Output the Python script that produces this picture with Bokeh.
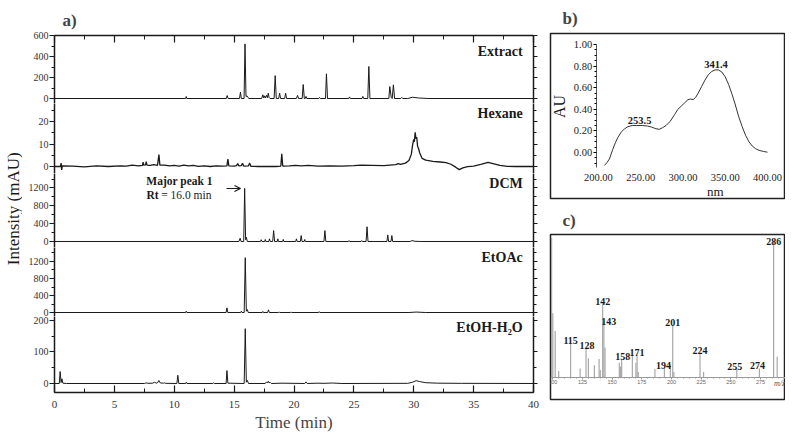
from math import pi
from bokeh.plotting import figure
from bokeh.layouts import row, column
from bokeh.models import (Range1d, LinearAxis, FixedTicker, SingleIntervalTicker,
                          NumeralTickFormatter, CustomJSTickFormatter, Arrow, OpenHead)
from bokeh.core.properties import value
from bokeh.embed import file_html
from bokeh.resources import INLINE

SERIF = "Liberation Serif"
INK = "#1a1a1a"

# ---------------- a) HPLC chromatograms (time in min, intensity in mAU) ----------------
TIME_RANGE = (0, 40)

EXTRACT = [(0.0, 0), (10.95, 0), (11.0, 19), (11.05, 0), (14.35, 0), (14.42, 28), (14.5, 0),
           (15.45, 0), (15.53, 60), (15.6, 0), (15.83, 0), (15.91, 520), (15.99, 20), (16.08, 25),
           (16.15, 10), (16.24, 0), (17.3, 0), (17.4, 35), (17.48, 5), (17.55, 25), (17.62, 5),
           (17.7, 30), (17.78, 8), (17.85, 50), (17.92, 10), (18.0, 0), (18.34, 0), (18.43, 218),
           (18.52, 0), (18.72, 0), (18.8, 50), (18.88, 0), (19.22, 0), (19.3, 50), (19.38, 0),
           (20.2, 0), (20.3, 30), (20.38, 0), (20.68, 0), (20.77, 133), (20.86, 0), (20.94, 0),
           (21.0, 20), (21.07, 0), (22.07, 0), (22.13, 10), (22.2, 0), (22.63, 0), (22.71, 235),
           (22.8, 0), (24.57, 0), (24.63, 15), (24.7, 0), (25.68, 0), (25.75, 20), (25.82, 0),
           (26.16, 0), (26.25, 305), (26.34, 0), (27.92, 0), (28.0, 114), (28.12, 10), (28.2, 0),
           (28.3, 130), (28.4, 0), (28.92, 0), (29.0, 10), (29.08, 0), (29.5, 0), (29.9, 12),
           (30.4, 5), (31.2, 0), (40.0, 0)]

HEXANE = [(0.0, 0), (0.5, 0), (0.55, 1.5), (0.6, -1.5), (0.65, 0.3), (1.5, 0.2), (2.5, -0.2),
          (3.5, 0.3), (4.5, 0.0), (5.5, 0.3), (6.0, 0.2), (6.5, 0.6), (7.0, 0.3), (7.35, 0.5),
          (7.4, 2.0), (7.45, 0.6), (7.6, 0.7), (7.66, 2.2), (7.72, 0.6), (8.0, 0.5), (8.3, 0.8),
          (8.6, 0.5), (8.72, 5.3), (8.8, 0.6), (9.2, 0.6), (9.6, 0.3), (10.0, 0.5), (10.4, 0.2),
          (10.8, 0.6), (11.2, 0.3), (11.6, 0.5), (12.0, 0.1), (12.5, 0.3), (13.0, 0.0),
          (13.5, 0.3), (14.0, 0.2), (14.4, 0.3), (14.48, 3.3), (14.56, 0.3), (15.0, 0.2),
          (15.2, 0.4), (15.3, 1.3), (15.4, 0.3), (15.6, 0.4), (15.7, 1.4), (15.8, 0.2),
          (16.2, 0.3), (16.3, 1.5), (16.4, 0.1), (17.0, 0.0), (17.8, 0.1), (18.5, 0.0),
          (18.9, 0.2), (18.98, 5.6), (19.06, 0.2), (19.6, 0.3), (20.1, 0.5), (20.6, 0.3),
          (21.2, 0.5), (22.0, 0.2), (23.0, 0.3), (24.0, 0.2), (25.0, 0.4), (25.6, 0.6),
          (26.5, 0.5), (27.5, 0.4), (28.5, 0.8), (28.7, 1.3), (28.9, 0.9), (29.3, 1.5),
          (29.6, 2.7), (29.8, 5.5), (29.9, 9.5), (30.0, 12.0), (30.05, 11.0), (30.12, 15.2),
          (30.18, 12.5), (30.25, 13.0), (30.32, 9.0), (30.4, 8.0), (30.5, 6.0), (30.7, 3.6),
          (31.0, 2.8), (31.6, 2.3), (32.2, 2.0), (32.7, 1.7), (33.1, 1.0), (33.5, -0.3),
          (33.8, -1.4), (34.1, -0.6), (34.5, -0.1), (35.0, 0.2), (35.6, 0.9), (36.2, 1.8),
          (36.7, 1.2), (37.2, 0.5), (37.8, 0.1), (38.5, 0.0), (40.0, 0.0)]

DCM = [(0.0, 0), (15.4, 0), (15.5, 73), (15.58, 0), (15.8, 0), (15.88, 1190), (15.96, 40),
       (16.02, 96), (16.1, 0), (17.2, 0), (17.26, 40), (17.32, 0), (17.55, 0), (17.6, 45),
       (17.65, 0), (17.9, 0), (17.95, 60), (18.02, 0), (18.22, 0), (18.3, 244), (18.38, 0),
       (18.6, 0), (18.65, 60), (18.7, 0), (19.05, 0), (19.1, 45), (19.15, 0), (20.15, 0),
       (20.2, 60), (20.27, 0), (20.53, 0), (20.6, 133), (20.67, 0), (20.85, 0), (20.9, 45),
       (20.95, 0), (22.5, 0), (22.58, 244), (22.66, 0), (24.55, 0), (24.6, 20), (24.65, 0),
       (25.6, 0), (25.65, 20), (25.7, 0), (26.02, 0), (26.1, 330), (26.18, 0), (27.76, 0),
       (27.83, 148), (27.9, 0), (28.1, 0), (28.17, 133), (28.24, 0), (29.7, 0), (29.85, 20),
       (30.1, 5), (30.6, 0), (40.0, 0)]

ETOAC = [(0.0, 0), (10.95, 0), (11.0, 31), (11.05, 0), (14.33, 0), (14.4, 110), (14.47, 0),
         (15.55, 0), (15.6, 30), (15.66, 0), (15.84, 0), (15.93, 1290), (16.02, 30), (16.1, 70),
         (16.18, 0), (17.35, 0), (17.4, 25), (17.45, 0), (17.8, 0), (17.87, 63), (17.94, 0),
         (18.7, 0), (18.75, 15), (18.8, 0), (19.7, 0), (19.75, 15), (19.8, 0), (22.05, 0),
         (22.1, 20), (22.15, 0), (29.6, 0), (30.2, 10), (31.0, 0), (40.0, 0)]

ETOH = [(0.0, 0), (0.4, 0), (0.47, 38), (0.55, 3), (0.62, 15), (0.7, 1), (1.0, 0), (7.5, 0),
        (7.66, 2), (7.8, 0.5), (8.2, 1), (8.35, 4), (8.5, 1), (8.62, 3), (8.71, 9.5), (8.82, 2),
        (9.1, 1), (9.18, 2), (9.3, 0.5), (10.22, 0), (10.3, 26), (10.38, 0), (10.95, 0),
        (11.0, 4), (11.06, 0), (13.22, 0), (13.28, 2), (13.34, 0), (14.33, 0), (14.4, 41),
        (14.48, 1), (15.84, 0), (15.93, 174), (16.02, 4), (16.1, 10), (16.2, 0), (17.6, 0),
        (17.7, 5), (17.78, 2), (17.85, 7), (17.92, 2), (18.0, 4), (18.1, 0), (19.0, 1),
        (20.0, 0.5), (20.9, 0), (21.0, 5), (21.1, 0), (22.0, 1), (22.5, 0.5), (23.2, 1.5),
        (24.0, 0), (29.5, 0.5), (29.9, 4), (30.2, 9), (30.5, 6), (31.0, 2.5), (32.0, 1),
        (34.0, 0.5), (40.0, 0)]

SAMPLE_NAMES = ["Extract", "Hexane", "DCM", "EtOAc", "EtOH-H\u2082O"]

EXT_TICKS, EXT_MINOR = [0, 200, 400, 600], [100, 300, 500]
HEX_TICKS, HEX_MINOR = [0, 10, 20], [5, 15, 25]
DCM_TICKS, DCM_MINOR = [0, 400, 800, 1200], [200, 600, 1000, 1400]
EA_TICKS, EA_MINOR = [0, 400, 800, 1200], [200, 600, 1000, 1400]
EW_TICKS, EW_MINOR = [0, 100, 200], [50, 150]

# ---------------- b) UV spectrum ----------------
UV_NM = [207, 210, 213, 217, 220, 223, 227, 231, 235, 240, 245, 252, 258, 263, 268, 272, 276,
         280, 285, 290, 294, 298, 302, 306, 309, 312, 315, 318, 322, 326, 330, 334, 338, 342,
         346, 350, 354, 358, 362, 366, 370, 374, 378, 382, 386, 390, 395, 400]
UV_AU = [-0.12, -0.095, -0.06, 0.03, 0.09, 0.14, 0.19, 0.22, 0.24, 0.25, 0.25, 0.25, 0.245,
         0.235, 0.22, 0.215, 0.23, 0.25, 0.29, 0.35, 0.40, 0.43, 0.46, 0.49, 0.495, 0.49, 0.51,
         0.55, 0.61, 0.67, 0.72, 0.75, 0.765, 0.765, 0.745, 0.70, 0.63, 0.54, 0.44, 0.33, 0.24,
         0.16, 0.10, 0.06, 0.035, 0.02, 0.01, 0.003]
UV_PEAK_NM = [253.5, 341.4]
UV_PEAK_AU = [0.25, 0.765]
UV_X_TICKS = [200, 250, 300, 350, 400]
UV_Y_TICKS = [0.0, 0.2, 0.4, 0.6, 0.8, 1.0]

# ---------------- c) mass spectrum ----------------
MS_MZ = [99, 100, 102, 105, 115, 123, 128, 130, 135, 139, 140, 142, 143, 144, 156, 157, 158,
         167, 170, 171, 172, 186, 194, 199, 201, 202, 224, 227, 255, 274, 286, 289]
MS_INT = [102, 47, 34, 4.7, 25.4, 6.6, 21.8, 14, 9, 13.5, 5.4, 54, 41, 21.8, 10.8, 8, 13.2,
          16.9, 10.8, 16.4, 4, 6.2, 6.6, 9.5, 38.4, 4, 17.6, 4, 6.2, 6.6, 100, 15.2]
MS_LABEL_MZ = [115, 128, 142, 143, 158, 171, 194, 201, 224, 255, 274, 286]
MS_LABEL_INT = [25.4, 21.8, 54, 41, 13.2, 16.4, 6.6, 38.4, 17.6, 6.2, 6.6, 100]


def unzip(pairs):
    return [a for a, _ in pairs], [b for _, b in pairs]


BLANK = CustomJSTickFormatter(code="return ''")
XR = Range1d(*TIME_RANGE)
LEFT_B = 32
TOP_A = 35
BOTTOM_A = 42


def style_axis(ax):
    ax.axis_line_width = 1.5
    ax.axis_line_color = INK
    ax.major_tick_line_color = INK
    ax.minor_tick_line_color = INK
    ax.major_tick_line_width = 1.2


def chrom(pairs, name, name_y, frame_h, yr, ticks, minor, top=0, bottom=0, loc=None, lw=1.0):
    p = figure(frame_width=479, frame_height=frame_h, x_range=XR, y_range=Range1d(*yr),
               x_axis_location=loc, y_axis_location="left", output_backend="svg",
               toolbar_location=None, min_border_left=LEFT_B, min_border_right=11,
               min_border_top=top, min_border_bottom=bottom)
    p.outline_line_color = None
    p.grid.visible = False
    p.background_fill_color = "white"
    p.border_fill_color = "white"
    t, v = unzip(pairs)
    p.line(t, v, line_color=INK, line_width=lw)
    ax = p.yaxis[0]
    ax.ticker = FixedTicker(ticks=ticks, minor_ticks=minor)
    ax.major_tick_out, ax.major_tick_in = 5, 0
    ax.minor_tick_out, ax.minor_tick_in = 3, 0
    ax.major_label_standoff = 1
    ax.major_label_text_font = SERIF
    ax.major_label_text_font_size = "10px"
    ax.major_label_text_color = "#333333"
    style_axis(ax)
    ra = LinearAxis(ticker=FixedTicker(ticks=ticks, minor_ticks=minor), formatter=BLANK,
                    major_label_standoff=0, major_tick_out=4, major_tick_in=0,
                    minor_tick_out=3, minor_tick_in=0)
    style_axis(ra)
    p.add_layout(ra, "right")
    p.text(x=[39.1], y=[name_y], text=[name], text_font=value(SERIF), text_font_size="14px",
           text_font_style="bold", text_align="right", text_baseline="middle", text_color=INK)
    return p


pa1 = chrom(EXTRACT, SAMPLE_NAMES[0], 450, 68, (-47.6, 600), EXT_TICKS, EXT_MINOR,
            top=TOP_A, loc="above")
pa2 = chrom(HEXANE, SAMPLE_NAMES[1], 23.6, 70, (-3.11, 28.0), HEX_TICKS, HEX_MINOR, lw=1.3)
pa3 = chrom(DCM, SAMPLE_NAMES[2], 1301, 74, (-134.6, 1525), DCM_TICKS, DCM_MINOR)
pa4 = chrom(ETOAC, SAMPLE_NAMES[3], 1294, 69, (-94.1, 1529.4), EA_TICKS, EA_MINOR)
pa5 = chrom(ETOH, SAMPLE_NAMES[4], 178, 76, (-28.6, 212.7), EW_TICKS, EW_MINOR,
            bottom=BOTTOM_A, loc="below")

# top axis of panel a (ticks only)
xt = pa1.xaxis[0]
xt.ticker = SingleIntervalTicker(interval=5, num_minor_ticks=2)
xt.formatter = BLANK
xt.major_tick_in, xt.major_tick_out = 7, 0
xt.minor_tick_in, xt.minor_tick_out = 4, 0
xt.major_label_standoff = 0
style_axis(xt)
pa1.title.text = "a)"
pa1.title.text_font = SERIF
pa1.title.text_font_size = "17px"
pa1.title.text_font_style = "bold"
pa1.title.offset = 8
pa1.title.standoff = 12

# bottom axis of panel a
xb = pa5.xaxis[0]
xb.ticker = SingleIntervalTicker(interval=5, num_minor_ticks=2)
xb.major_tick_in, xb.major_tick_out = 7, 0
xb.minor_tick_in, xb.minor_tick_out = 4, 0
xb.major_label_standoff = 8
xb.major_label_text_font = SERIF
xb.major_label_text_font_size = "11px"
xb.major_label_text_color = "#333333"
xb.axis_label = "Time (min)"
xb.axis_label_text_font = SERIF
xb.axis_label_text_font_size = "17px"
xb.axis_label_text_font_style = "normal"
xb.axis_label_standoff = 2
style_axis(xb)

# Major peak annotation in DCM panel
pa3.text(x=[10.44], y=[1346], text=["Major peak 1"], text_font=value(SERIF),
         text_font_size="11.5px", text_font_style="bold", text_align="center",
         text_baseline="middle", text_color=INK)
pa3.text(x=[7.68], y=[1054], text=["Rt"], text_font=value(SERIF), text_font_size="11.5px",
         text_font_style="bold", text_align="left", text_baseline="middle", text_color=INK)
pa3.text(x=[8.91], y=[1054], text=["= 16.0 min"], text_font=value(SERIF),
         text_font_size="11.5px", text_align="left", text_baseline="middle", text_color=INK)
pa3.add_layout(Arrow(x_start=14.36, y_start=1189, x_end=15.53, y_end=1189,
                     line_width=1.2, line_color=INK,
                     end=OpenHead(size=6, line_width=1.2, line_color=INK)))

# shared y-axis title for panel a (its own narrow strip so it is not cut)
COL_A_H = TOP_A + 68 + 70 + 74 + 69 + 76 + BOTTOM_A
ylab = figure(width=22, height=COL_A_H, x_range=Range1d(0, 1), y_range=Range1d(0, 1),
              output_backend="svg", toolbar_location=None, x_axis_location=None,
              y_axis_location=None, min_border=0)
ylab.outline_line_color = None
ylab.grid.visible = False
ylab.text(x=[0.6], y=[0.52], text=["Intensity (mAU)"], angle=pi / 2, text_font=value(SERIF),
          text_font_size="17px", text_align="center", text_baseline="middle", text_color=INK)

# ---------------- panel b ----------------
pb = figure(frame_width=235, frame_height=165, x_range=Range1d(143.3, 421.3),
            y_range=Range1d(-0.426, 1.102), output_backend="svg", toolbar_location=None,
            min_border_left=6, min_border_right=0, min_border_top=33, min_border_bottom=3)
pb.grid.visible = False
pb.outline_line_color = "#222222"
pb.outline_line_width = 1.5
pb.line(UV_NM, UV_AU, line_color="#333333", line_width=1)
pb.text(x=UV_PEAK_NM, y=UV_PEAK_AU, text=[f"{v:.1f}" for v in UV_PEAK_NM],
        x_offset=[-4, -2], y_offset=[-2, -2],
        text_font=value(SERIF), text_font_size="10.5px", text_font_style="bold",
        text_align="center", text_baseline="bottom", text_color=INK)
yb = pb.yaxis[0]
yb.fixed_location = 197.3
yb.bounds = (-0.14, 1.0)
yb.ticker = FixedTicker(ticks=UV_Y_TICKS,
                        minor_ticks=[-0.1, -0.05, 0.05, 0.1, 0.15, 0.25, 0.3, 0.35, 0.45, 0.5,
                                     0.55, 0.65, 0.7, 0.75, 0.85, 0.9, 0.95])
yb.formatter = NumeralTickFormatter(format="0.00")
yb.major_tick_out, yb.major_tick_in = 3, 0
yb.minor_tick_out, yb.minor_tick_in = 2, 0
yb.major_label_standoff = 1
yb.major_label_text_font = SERIF
yb.major_label_text_font_size = "10.5px"
yb.major_label_text_color = INK
yb.axis_line_color = "#555555"
xbb = pb.xaxis[0]
xbb.fixed_location = -0.140
xbb.ticker = FixedTicker(ticks=UV_X_TICKS)
xbb.formatter = NumeralTickFormatter(format="0.00")
xbb.axis_line_color = None
xbb.major_tick_line_color = None
xbb.minor_tick_line_color = None
xbb.major_label_standoff = 0
xbb.major_label_text_font = SERIF
xbb.major_label_text_font_size = "10.5px"
xbb.major_label_text_color = INK
pb.text(x=[153.9], y=[0.426], text=["AU"], angle=pi / 2, text_font=value(SERIF),
        text_font_size="16px", text_align="center", text_baseline="middle", text_color=INK)
pb.text(x=[338.2], y=[-0.36], text=["nm"], text_font=value(SERIF), text_font_size="13px",
        text_align="center", text_baseline="middle", text_color=INK)
pb.title.text = "b)"
pb.title.text_font = SERIF
pb.title.text_font_size = "17px"
pb.title.text_font_style = "bold"
pb.title.offset = 12
pb.title.standoff = 11

# ---------------- panel c ----------------
pc = figure(frame_width=235, frame_height=165, x_range=Range1d(98.06, 296.0),
            y_range=Range1d(-16.1, 104.6), output_backend="svg", toolbar_location=None,
            y_axis_location=None,
            min_border_left=6, min_border_right=0, min_border_top=33, min_border_bottom=30)
pc.grid.visible = False
pc.outline_line_color = "#222222"
pc.outline_line_width = 1.5
pc.segment(x0=MS_MZ, y0=[0] * len(MS_MZ), x1=MS_MZ, y1=MS_INT, line_color="#a8a8a8",
           line_width=1.2)
x_off = [0, 1, 0, 5, 1, 0, -1, 0, 0, -2, -2, 0]
y_off = [1, 1, 1, 4, 1, 1, 1, 1, 1, 1, 1, 4]
pc.text(x=MS_LABEL_MZ, y=MS_LABEL_INT, text=[str(m) for m in MS_LABEL_MZ],
        x_offset=x_off, y_offset=y_off, text_font=value(SERIF), text_font_size="10px",
        text_font_style="bold", text_align="center", text_baseline="bottom", text_color=INK)
xc = pc.xaxis[0]
xc.fixed_location = 0
xc.ticker = SingleIntervalTicker(interval=25, num_minor_ticks=5)
xc.axis_line_color = "#999999"
xc.major_tick_line_color = "#999999"
xc.minor_tick_line_color = "#999999"
xc.major_tick_out, xc.major_tick_in = 2, 0
xc.minor_tick_out, xc.minor_tick_in = 1, 0
xc.major_label_standoff = 1
xc.major_label_text_font_size = "5.5px"
xc.major_label_text_color = "#666666"
pc.text(x=[291], y=[-4.6], text=["m/z"], text_font=value(SERIF), text_font_size="8px",
        text_font_style="italic", text_align="center", text_baseline="middle",
        text_color="#555555")
pc.title.text = "c)"
pc.title.text_font = SERIF
pc.title.text_font_size = "17px"
pc.title.text_font_style = "bold"
pc.title.offset = 12
pc.title.standoff = 10

layout = row(ylab, column(pa1, pa2, pa3, pa4, pa5), column(pb, pc))
open("out.html", "w").write(file_html(layout, INLINE))
